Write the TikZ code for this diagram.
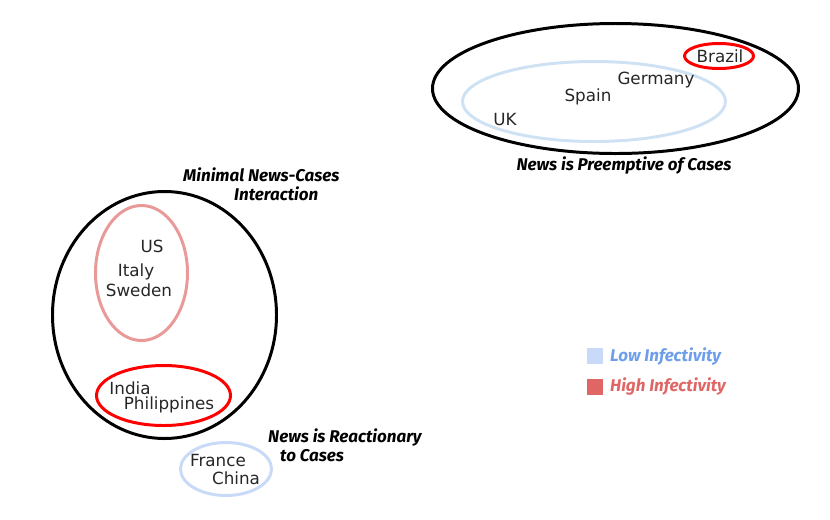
\documentclass[tikz,border=0pt]{standalone}
\usepackage{fontspec}
\setmainfont{DejaVu Sans}
\newfontfamily\labelfont{Fira Sans}
\usepackage{tikz}
\usepackage{xcolor}
\usetikzlibrary{positioning,shapes.geometric}

\definecolor{lowblue}{HTML}{C9DAF8}
\definecolor{lowtext}{HTML}{6D9EEB}
\definecolor{hightext}{HTML}{E06666}
\definecolor{pinkring}{HTML}{EA9999}
\definecolor{skyring}{HTML}{CFE2F3}

\begin{document}
\begin{tikzpicture}[
          x=0.03cm, y=-0.03cm,
          grp/.style={draw, ellipse, line width=2.55pt, inner sep=0pt},
          country/.style={font=\fontsize{14.3}{16}\selectfont, text=black!85, inner sep=0pt},
          tag/.style={font=\labelfont\bfseries\itshape\fontsize{14.5}{16.2}\selectfont, align=left, inner sep=0pt},
          key/.style={minimum size=0.48cm, inner sep=0pt}
      ]
        \useasboundingbox (0,0) rectangle (830,519);
        % top right group
        \node[grp, minimum width=10.98cm, minimum height=3.9cm] (preempt) at (615.5,88.5) {};
        \node[grp, draw=skyring, minimum width=7.89cm, minimum height=2.4cm] (lowtop) at (594,101.5) {};
        \node[grp, draw=red, minimum width=2.07cm, minimum height=0.75cm] (brazilring) at (719,56) {};
        \node[country] (brazil) at (720,56) {Brazil};
        \node[country] (germany) at (656,80) {Germany};
        \node[country] (spain) at (588,97) {Spain};
        \node[country] (uk) at (505,120) {UK};
        \node[tag] (preempttag) at (624,166) {News is Preemptive of Cases};
        % left group
        \node[grp, minimum width=6.72cm, minimum height=7.41cm] (minimal) at (164.5,315) {};
        \node[grp, draw=pinkring, minimum width=2.76cm, minimum height=4.05cm] (highleft) at (141.5,273) {};
        \node[grp, draw=red, minimum width=4.02cm, minimum height=1.8cm] (indiaring) at (163.5,395.5) {};
        \node[country] (us) at (152,246) {US};
        \node[country] (italy) at (136,272) {Italy};
        \node[country] (sweden) at (139,290) {Sweden};
        \node[country] (india) at (130,388) {India};
        \node[country] (phil) at (169,405) {Philippines};
        \node[tag, anchor=west] (minimaltag) at (183,184.5) {Minimal News-Cases\\\hspace*{1.53cm}Interaction};
        % reactionary group
        \node[grp, draw=lowblue, minimum width=2.73cm, minimum height=1.59cm] (react) at (226,469) {};
        \node[country] (france) at (218,461) {France};
        \node[country] (china) at (236,478) {China};
        \node[tag, anchor=west] (reacttag) at (268,445.5) {News is Reactionary\\\hspace*{0.36cm}to Cases};
        % legend
        \node[key, fill=lowblue] (lowkey) at (595,356) {};
        \node[key, fill=hightext] (highkey) at (595,387) {};
        \node[tag, text=lowtext, right=0.2cm of lowkey] (lowlab) {Low Infectivity};
        \node[tag, text=hightext, right=0.2cm of highkey] (highlab) {High Infectivity};
      \end{tikzpicture}
\end{document}
